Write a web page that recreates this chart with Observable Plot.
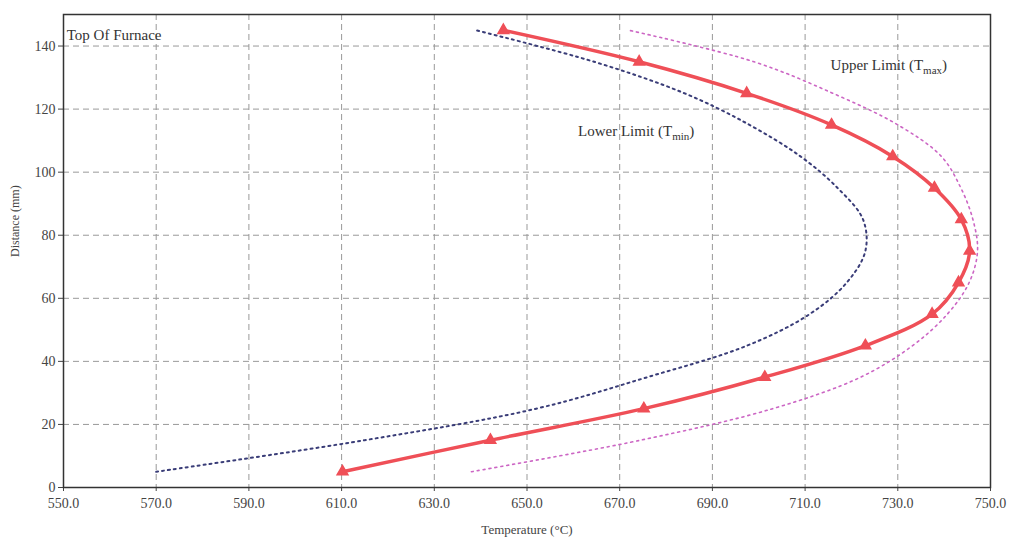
<!DOCTYPE html>
<html>
<head>
<meta charset="utf-8">
<script src="https://cdn.jsdelivr.net/npm/d3@7"></script>
<script src="https://cdn.jsdelivr.net/npm/@observablehq/plot@0.6"></script>
<style>
  html, body { margin: 0; padding: 0; background: #fff; }
  #chart svg { display: block; }
</style>
</head>
<body>
<div id="chart"></div>
<script>
// ---- data ----
const distance = [5, 15, 25, 35, 45, 55, 65, 75, 85, 95, 105, 115, 125, 135, 145];
const tActual  = [610.2, 642.1, 675.2, 701.3, 723.0, 737.4, 743.1, 745.5, 743.7, 737.9, 728.9, 715.7, 697.4, 674.2, 644.9];
const tMin     = [570, 615, 652, 676, 697.5, 711, 719, 723, 722.5, 717, 709, 698, 684, 664.5, 639];
const tMax     = [638, 674.5, 703, 722, 733.2, 740.7, 745.4, 747.2, 746.2, 743.6, 739.4, 730, 716, 699, 672];
const xTicks   = [550, 570, 590, 610, 630, 650, 670, 690, 710, 730, 750];
const yTicks   = [0, 20, 40, 60, 80, 100, 120, 140];
const labels   = [
  {t: 550.7, d: 143.3, text: "Top Of Furnace"},
  {t: 715.5, d: 134.0, text: "Upper Limit (Tmax)"},
  {t: 661.0, d: 113.0, text: "Lower Limit (Tmin)"}
];

const actual = distance.map((d, i) => ({d, t: tActual[i]}));
const lower  = distance.map((d, i) => ({d, t: tMin[i]}));
const upper  = distance.map((d, i) => ({d, t: tMax[i]}));

const plot = Plot.plot({
  width: 1015,
  height: 542,
  marginLeft: 63,
  marginRight: 25,
  marginTop: 14,
  marginBottom: 55,
  style: {fontFamily: "'Liberation Serif', serif", fontSize: "14px", color: "#444", background: "#fff"},
  x: {domain: [550, 750], ticks: xTicks, tickFormat: d3.format(".1f"), tickSize: 4, tickPadding: 7, label: null},
  y: {domain: [0, 150], ticks: yTicks, tickSize: 5, tickPadding: 3, label: null},
  marks: [
    Plot.ruleX(xTicks.slice(1, -1), {stroke: "#999", strokeDasharray: "6,4", strokeWidth: 1}),
    Plot.ruleY(yTicks.slice(1), {stroke: "#999", strokeDasharray: "6,4", strokeWidth: 1}),
    Plot.line(lower, {x: "t", y: "d", curve: "catmull-rom", stroke: "#3a3d78", strokeWidth: 2, strokeDasharray: "2,4"}),
    Plot.line(upper, {x: "t", y: "d", curve: "catmull-rom", stroke: "#cc66c4", strokeWidth: 1.6, strokeDasharray: "2,4"}),
    Plot.line(actual, {x: "t", y: "d", curve: "catmull-rom", stroke: "#ef4f57", strokeWidth: 3.5}),
    Plot.dot(actual, {x: "t", y: "d", symbol: "triangle", r: 4, fill: "#ef4f57", stroke: "#ef4f57"}),
    Plot.frame({stroke: "#333", strokeWidth: 1.5}),
    Plot.text(labels, {x: "t", y: "d", text: "text", textAnchor: "start", fontSize: 15, fill: "#333"}),
    Plot.text(["Temperature (°C)"], {frameAnchor: "bottom", dy: 46, fontSize: 13, fill: "#444"}),
    Plot.text(["Distance (mm)"], {frameAnchor: "left", dx: -48, dy: 6, rotate: -90, fontSize: 12, fill: "#444"})
  ]
});

// subscripts for Tmax / Tmin
d3.select(plot).selectAll("text").each(function() {
  const txt = this.textContent;
  const m = txt.match(/^(.*\(T)(max|min)\)$/);
  if (m && this.childElementCount === 0) {
    const el = d3.select(this);
    el.text(null);
    el.append("tspan").text(m[1]);
    el.append("tspan").attr("font-size", 11).attr("dy", 4).text(m[2]);
    el.append("tspan").attr("dy", -4).text(")");
  }
});

document.getElementById("chart").appendChild(plot);
</script>
</body>
</html>
